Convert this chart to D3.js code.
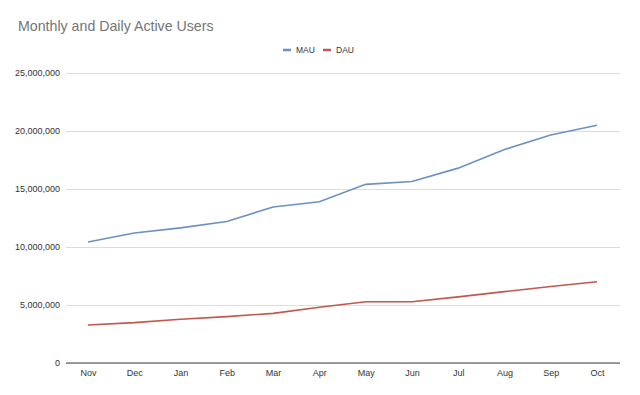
<!DOCTYPE html>
<html><head><meta charset="utf-8">
<script src="https://cdn.jsdelivr.net/npm/d3@7"></script>
<style>body{margin:0;background:#fff;}svg{display:block;font-family:Arial,"Liberation Sans",sans-serif;}</style>
</head><body>
<svg id="c" width="640" height="395"></svg>
<script>
const months = ["Nov","Dec","Jan","Feb","Mar","Apr","May","Jun","Jul","Aug","Sep","Oct"];
const mau = [10430000,11200000,11650000,12200000,13450000,13900000,15400000,15650000,16800000,18400000,19650000,20500000];
const dau = [3280000,3480000,3770000,4000000,4280000,4800000,5280000,5280000,5700000,6150000,6600000,7000000];
const yTicks = [0,5000000,10000000,15000000,20000000,25000000];
const seriesNames = ["MAU","DAU"];
const colors = ["#6b91c3","#c2574c"];

(function(){
const svg = d3.select("#c");
const mLeft = 66, mRight = 620, mTop = 73, mBottom = 363;
const x = d3.scalePoint().domain(months).range([88, 597]);
const y = d3.scaleLinear().domain([0,25000000]).range([mBottom, mTop]);

svg.append("text").attr("x",18).attr("y",31).attr("font-size",14.2).attr("fill","#757575").text("Monthly and Daily Active Users");

const yAxis = d3.axisLeft(y).tickValues(yTicks).tickSize(-(mRight-mLeft)).tickFormat(d3.format(","));
const gy = svg.append("g").attr("transform",`translate(${mLeft},0)`).call(yAxis);
gy.select(".domain").remove();
gy.selectAll(".tick line").attr("stroke","#dcdcdc").attr("stroke-width",1);
gy.selectAll(".tick text").attr("x",-6).attr("font-size",9).attr("fill","#333");

const xAxis = d3.axisBottom(x).tickSize(0).tickPadding(7);
const gx = svg.append("g").attr("transform",`translate(0,${mBottom})`).call(xAxis);
gx.select(".domain").attr("d",`M${mLeft},0H${mRight}`).attr("stroke","#444").attr("stroke-width",1);
gx.selectAll(".tick text").attr("font-size",9).attr("fill","#333");

const line = d3.line().x((d,i)=>x(months[i])).y(d=>y(d));
[mau,dau].forEach((s,k)=>{
  svg.append("path").datum(s).attr("d",line).attr("fill","none").attr("stroke",colors[k]).attr("stroke-width",1.6);
});

const lg = svg.append("g");
const lx = [283, 323];
seriesNames.forEach((n,k)=>{
  lg.append("line").attr("x1",lx[k]).attr("x2",lx[k]+8).attr("y1",50).attr("y2",50).attr("stroke",colors[k]).attr("stroke-width",2.5);
  lg.append("text").attr("x",lx[k]+13).attr("y",53).attr("font-size",8.5).attr("fill","#333").text(n);
});
})();
</script>
</body></html>
